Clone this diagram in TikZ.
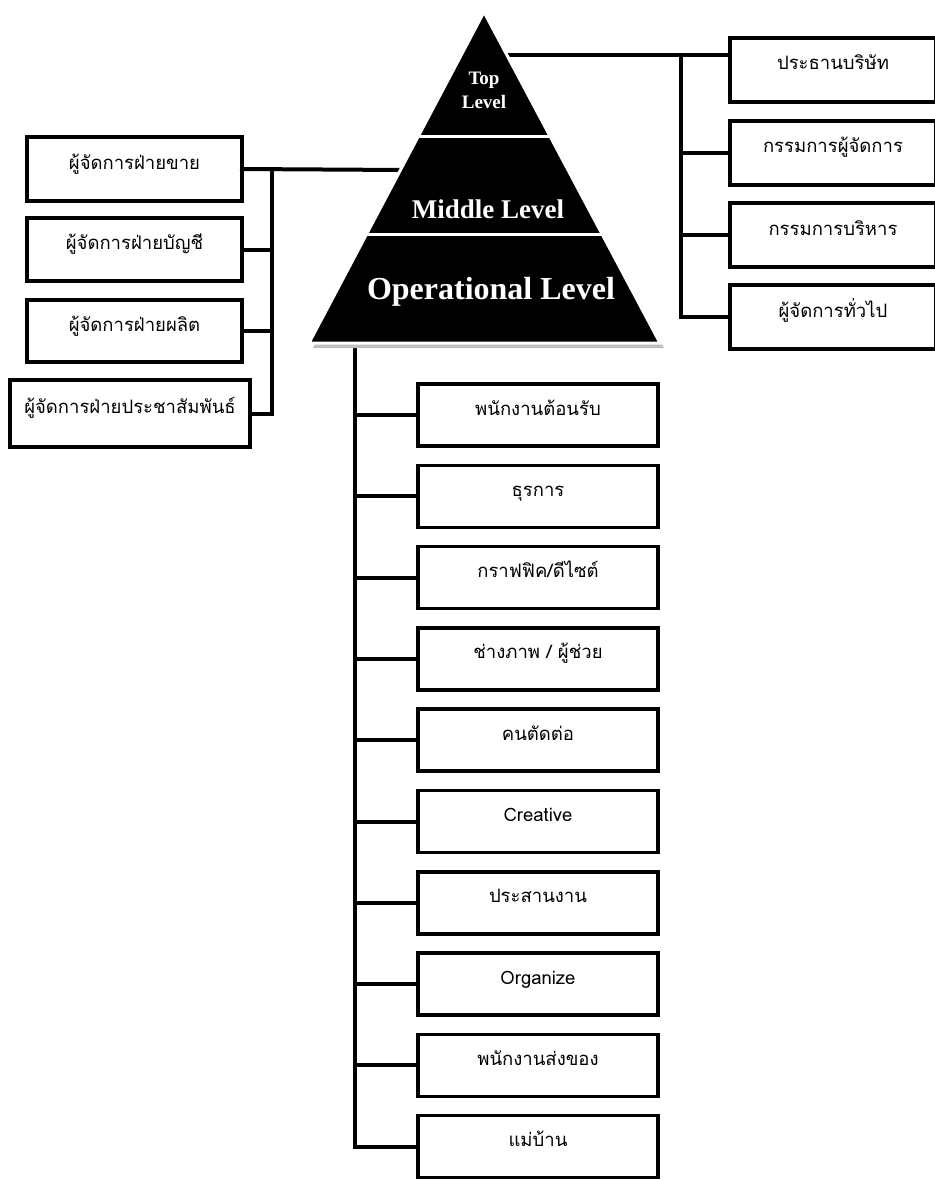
\documentclass[tikz,border=0pt]{standalone}
\usepackage{fontspec}
\newfontfamily\thaifont[Script=Thai]{Loma}
\newfontfamily\levelfont{Liberation Serif}
\usetikzlibrary{calc}
\tikzset{
  posbox/.style={draw, line width=3.5pt, fill=white, inner sep=0pt, outer sep=0pt,
    text height=12pt, text depth=12pt, font=\thaifont\fontsize{18.5}{20}\selectfont},
  link/.style={line width=4pt, line cap=rect},
  leveltext/.style={text=white, font=\levelfont\bfseries, align=center}
}
\begin{document}
\begin{tikzpicture}[x=1pt,y=-1pt]
  \useasboundingbox (0,0) rectangle (934,1180);
  % pyramid corners
  \coordinate (apex) at (484,12);
  \coordinate (bl) at (309,343);
  \coordinate (br) at (660,343);
  \coordinate (rjoin) at ($(apex)!0.13!(br)$);
  \coordinate (ljoin) at ($(apex)!0.4773!(bl)$);
  \coordinate (rbus) at (681,55);
  \coordinate (lbus) at (272,170);
  \coordinate (opstem) at (355,343);
  % top level
  \node[posbox, minimum width=206pt, minimum height=64pt, anchor=north west] (r1) at (730,38) {ประธานบริษัท};
  \node[posbox, minimum width=206pt, minimum height=64pt, anchor=north west] (r2) at (730,121) {กรรมการผู้จัดการ};
  \node[posbox, minimum width=206pt, minimum height=64pt, anchor=north west] (r3) at (730,203) {กรรมการบริหาร};
  \node[posbox, minimum width=206pt, minimum height=64pt, anchor=north west] (r4) at (730,285) {ผู้จัดการทั่วไป};
  \draw[link] (rjoin) -- (r1.west |- rjoin);
  \draw[link] (rjoin -| rbus) -- (rbus |- r4.west) -- (r4.west);
  \foreach \k in {2,3} \draw[link] (rbus |- r\k.west) -- (r\k.west);
  % middle level
  \node[posbox, minimum width=215pt, minimum height=64pt, anchor=north west] (l1) at (27,137) {ผู้จัดการฝ่ายขาย};
  \node[posbox, minimum width=215pt, minimum height=63pt, anchor=north west] (l2) at (27,218) {ผู้จัดการฝ่ายบัญชี};
  \node[posbox, minimum width=215pt, minimum height=62pt, anchor=north west] (l3) at (27,300) {ผู้จัดการฝ่ายผลิต};
  \node[posbox, minimum width=240pt, minimum height=67pt, anchor=north west] (l4) at (10,380) {ผู้จัดการฝ่ายประชาสัมพันธ์};
  \draw[link] (ljoin) -- (l1.east);
  \draw[link] (l1.east -| lbus) -- (l4.east -| lbus) -- (l4.east);
  \foreach \k in {2,3} \draw[link] (lbus |- l\k.east) -- (l\k.east);
  % operational level
  \foreach \t [count=\i] in {พนักงานต้อนรับ, ธุรการ, กราฟฟิค/ดีไซต์, ช่างภาพ / ผู้ช่วย, คนตัดต่อ,
      Creative, ประสานงาน, Organize, พนักงานส่งของ, แม่บ้าน}{
    \node[posbox, minimum width=240pt, minimum height=62pt, anchor=north west] (b\i) at (418,{384+81.3*(\i-1)}) {\t};
  }
  \draw[link] (opstem) -- (opstem |- b10.west) -- (b10.west);
  \foreach \i in {1,...,9} \draw[link] (opstem |- b\i.west) -- (b\i.west);
  % pyramid
  \fill[black!25] ([shift={(4,5)}]apex) -- ([shift={(4,5)}]br) -- ([shift={(4,5)}]bl) -- cycle;
  \filldraw[fill=black, draw=white, line width=3pt] (apex) -- (br) -- (bl) -- cycle;
  \draw[white, line width=3pt] ($(apex)!0.3776!(bl)$) -- ($(apex)!0.3776!(br)$);
  \draw[white, line width=3pt] ($(apex)!0.6707!(bl)$) -- ($(apex)!0.6707!(br)$);
  \node[leveltext, font=\levelfont\bfseries\fontsize{19}{24}\selectfont] (toplv) at (484,90) {Top\\Level};
  \node[leveltext, font=\levelfont\bfseries\fontsize{27}{30}\selectfont] (midlv) at (488,209) {Middle Level};
  \node[leveltext, font=\levelfont\bfseries\fontsize{32}{34}\selectfont] (oplv) at (491,292) {Operational Level};
\end{tikzpicture}
\end{document}
